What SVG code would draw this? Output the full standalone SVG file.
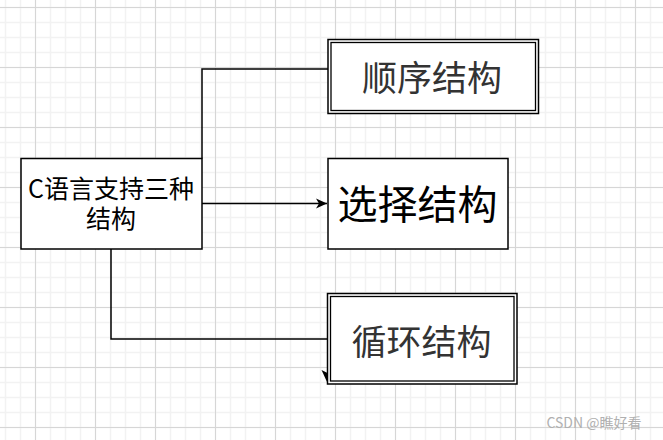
<svg xmlns="http://www.w3.org/2000/svg" width="663" height="440" viewBox="0 0 663 440">
<style>
.box{fill:#fff;stroke:#000;stroke-width:1.5}
.dbl{fill:none;stroke:#000;stroke-width:1.3}
.edge{fill:none;stroke:#000;stroke-width:1.5}
.t{font-family:"Noto Sans CJK SC","Liberation Sans",sans-serif;text-anchor:middle}
</style>
<defs>
<pattern id="minor" patternUnits="userSpaceOnUse" width="15" height="15">
<path d="M5.5 0V15M0 7.5H15" stroke="#f2f2f2" stroke-width="1.5" fill="none"/>
</pattern>
<pattern id="major" patternUnits="userSpaceOnUse" width="60" height="60">
<path d="M35.5 0V60M0 7.5H60" stroke="#d6d6d6" stroke-width="1" fill="none"/>
</pattern>
<marker id="arr" markerWidth="12" markerHeight="12" refX="11" refY="6" orient="auto" markerUnits="userSpaceOnUse">
<path d="M0 1 L11 6 L0 11 L3 6 Z" fill="#000"/>
</marker>
</defs>
<rect width="663" height="440" fill="#fff"/>
<rect width="663" height="440" fill="url(#minor)"/>
<rect width="663" height="440" fill="url(#major)"/>
<g id="connectors">
<path class="edge" d="M202 158.5V69H328"/>
<path class="edge" d="M202 203.5H327" marker-end="url(#arr)"/>
<path class="edge" d="M111 249V339H328"/>
<path d="M321.5 370L327.5 383L327.5 373Z" fill="#000"/>
</g>
<g id="node-c">
<rect class="box" x="21" y="158.5" width="181" height="90.5"/>
<text class="t" font-size="25" fill="#000"><tspan x="111" y="198">C语言支持三种</tspan><tspan x="111" y="228">结构</tspan></text>
</g>
<g id="node-seq">
<rect class="box" x="328" y="39.5" width="210.5" height="74" stroke-width="1.3"/>
<rect class="dbl" x="331" y="42.5" width="204.5" height="68"/>
<text class="t" x="432" y="91" font-size="35" fill="#333">顺序结构</text>
</g>
<g id="node-sel">
<rect class="box" x="328" y="158.5" width="180" height="90.5"/>
<text class="t" x="417.5" y="218.5" font-size="40" fill="#000">选择结构</text>
</g>
<g id="node-loop">
<rect class="box" x="327.5" y="293.5" width="189.5" height="90.5" stroke-width="1.3"/>
<rect class="dbl" x="330.5" y="296.5" width="183.5" height="84.5"/>
<text class="t" x="421.5" y="355" font-size="35" fill="#333">循环结构</text>
</g>
<text class="t" x="594" y="428" font-size="14" fill="#b0b0b0">CSDN @瞧好看</text>
</svg>
